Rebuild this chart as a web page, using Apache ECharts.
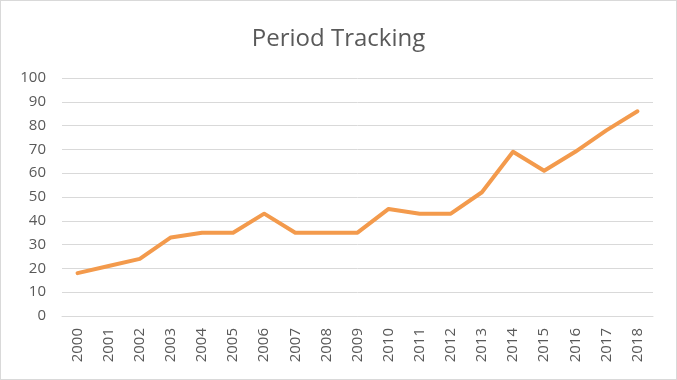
<!DOCTYPE html>
<html><head><meta charset="utf-8">
<script src="https://cdn.jsdelivr.net/npm/echarts@6/dist/echarts.min.js"></script>
<style>html,body{margin:0;padding:0;background:#fff}#c{width:677px;height:380px;box-sizing:border-box;border:1px solid #d9d9d9}</style>
</head><body><div id="c"></div>
<script>
var categories = ['2000','2001','2002','2003','2004','2005','2006','2007','2008','2009','2010','2011','2012','2013','2014','2015','2016','2017','2018'];
var values = [18, 21, 24, 33, 35, 35, 43, 35, 35, 35, 45, 43, 43, 52, 69, 61, 69, 78, 86];
var chart = echarts.init(document.getElementById('c'));
chart.setOption({
  animation: false,
  title: {text: 'Period Tracking', left: 'center', top: 21, textStyle: {fontFamily: 'Open Sans', fontSize: 24, fontWeight: 'normal', color: '#595959'}},
  grid: {left: 61, right: 23, top: 77, bottom: 63},
  xAxis: {type: 'category', data: categories, boundaryGap: true,
    axisLine: {lineStyle: {color: '#d9d9d9', width: 1}}, axisTick: {show: false},
    axisLabel: {rotate: 90, color: '#595959', fontSize: 15, fontFamily: 'Open Sans', margin: 12}},
  yAxis: {type: 'value', min: 0, max: 100, interval: 10,
    axisLine: {show: false}, axisTick: {show: false},
    splitLine: {lineStyle: {color: '#d9d9d9', width: 1}},
    axisLabel: {color: '#595959', fontSize: 15, fontFamily: 'Open Sans', margin: 16}},
  series: [{type: 'line', data: values, symbol: 'none', lineStyle: {color: '#F39A4C', width: 4, cap: 'round', join: 'round'}}]
});
</script></body></html>
